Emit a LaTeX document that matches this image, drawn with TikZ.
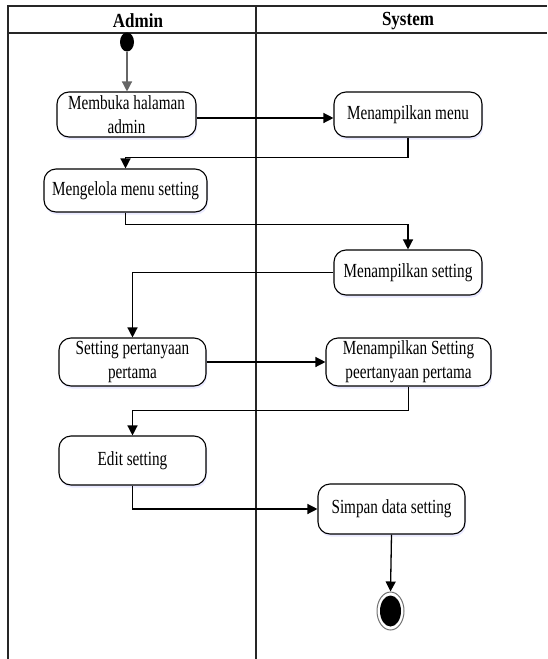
\documentclass[tikz,border=0pt]{standalone}
\usepackage{fontspec}
\setmainfont[FakeStretch=0.76]{Liberation Serif}
\newfontfamily\hdrfont[FakeStretch=0.85]{Liberation Serif}
\usetikzlibrary{arrows.meta,shapes.geometric,shadows}

\tikzset{
  lane/.style={line width=1.3pt, draw=black!85},
  act/.style={draw=black, line width=1.1pt, rounded corners=12pt, fill=white,
    align=center, inner sep=0pt, font=\fontsize{20}{24}\selectfont,
    drop shadow={fill=blue!25, opacity=0.35, shadow xshift=1pt, shadow yshift=-2.5pt}},
  hdr/.style={font=\hdrfont\fontsize{20}{24}\selectfont\bfseries, inner sep=0pt},
  flow/.style={draw=black, line width=1.3pt, -{Triangle[length=10pt,width=10pt]}},
  startflow/.style={draw=black!60, line width=1.3pt, -{Triangle[length=10pt,width=10pt]}},
}

\begin{document}
\begin{tikzpicture}[x=1pt,y=-1pt]
\useasboundingbox (0,0) rectangle (547,659);

% swimlane frame
\draw[lane] (8,659) -- (8,6) -- (547,6);
\draw[lane] (8,33) -- (547,33);
\draw[lane] (256,6) -- (256,659);
\node[hdr] (hadmin) at (138,21) {Admin};
\node[hdr] (hsystem) at (408,21) {System};

% initial node
\node[ellipse, fill=black, minimum width=14pt, minimum height=19pt, inner sep=0pt] (init) at (127,42) {};

% activities
\node[act, minimum width=139pt, minimum height=45pt] (membuka) at (126.5,114.5) {Membuka halaman\\admin};
\node[act, minimum width=148pt, minimum height=45pt] (menu) at (408,114.5) {Menampilkan menu};
\node[act, minimum width=163pt, minimum height=43pt] (kelola) at (125.5,190.5) {Mengelola menu setting};
\node[act, minimum width=148pt, minimum height=45pt] (tsetting) at (408,272.5) {Menampilkan setting};
\node[act, minimum width=147pt, minimum height=48pt] (pertama) at (132.5,362) {Setting pertanyaan\\pertama};
\node[act, minimum width=165pt, minimum height=48pt] (tpertama) at (408.5,362) {Menampilkan Setting\\peertanyaan pertama};
\node[act, minimum width=147pt, minimum height=49pt] (edit) at (132.5,460.5) {Edit setting};
\node[act, minimum width=147pt, minimum height=50pt] (simpan) at (391.5,509) {Simpan data setting};

% final node
\node[ellipse, draw=black!55, line width=1pt, fill=white, minimum width=27pt, minimum height=38pt, inner sep=0pt] (final) at (390.5,611) {};
\node[ellipse, fill=black, minimum width=21pt, minimum height=31pt, inner sep=0pt] (finaldot) at (final.center) {};

% control flow
\draw[startflow] (init) -- (membuka.north -| init);
\draw[flow] (membuka.east |- 0,118) -- (menu.west |- 0,118);
\draw[flow] (menu.south) -- ++(0,20) -| (kelola.north);
\draw[flow] (kelola.south) -- ++(0,12) -| (tsetting.north);
\draw[flow] (tsetting.west) -| (pertama.north);
\draw[flow] (pertama.east) -- (tpertama.west);
\draw[flow] (tpertama.south) -- ++(0,24) -| (edit.north);
\draw[flow] (edit.south) |- (simpan.west);
\draw[flow] (simpan.south) -- (final.north);
\end{tikzpicture}
\end{document}
